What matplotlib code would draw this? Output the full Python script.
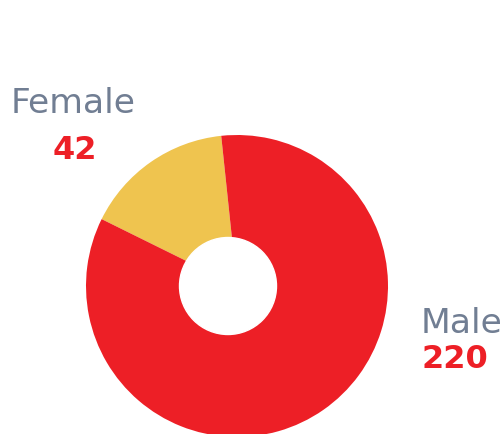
import matplotlib.pyplot as plt
from matplotlib.patches import Circle

labels = ["Female", "Male"]
counts = [42, 220]
colors = ["#EFC44F", "#ED1F26"]

W, H = 504, 434

if __name__ == '__main__':
    fig = plt.figure(figsize=(W / 100, H / 100), dpi=100)
    ax = fig.add_axes([0, 0, 1, 1])

    # donut centre in pixel space (y measured from bottom)
    cx, cy = 237, H - 286
    ax.pie(counts, colors=colors, startangle=96, counterclock=True,
           center=(cx, cy), radius=151, frame=True,
           wedgeprops=dict(linewidth=0))
    ax.set_xlim(0, W)
    ax.set_ylim(0, H)
    ax.set_aspect('equal')
    ax.axis('off')

    # hole sits a little left of the ring centre
    ax.add_patch(Circle((228, cy), 48.5, color='white', zorder=5))

    gray = "#717E93"
    font = "DejaVu Sans"
    ax.text(11, H - 113, labels[0], color=gray, fontsize=24.8, family=font,
            ha='left', va='baseline')
    ax.text(75, H - 159, str(counts[0]), color=colors[1], fontsize=23,
            fontweight='bold', family=font, ha='center', va='baseline')
    ax.text(421, H - 333, labels[1], color=gray, fontsize=24.8, family=font,
            ha='left', va='baseline')
    ax.text(421, H - 368, str(counts[1]), color=colors[1], fontsize=23,
            fontweight='bold', family=font, ha='left', va='baseline')

    fig.savefig("out.png", dpi=100)
